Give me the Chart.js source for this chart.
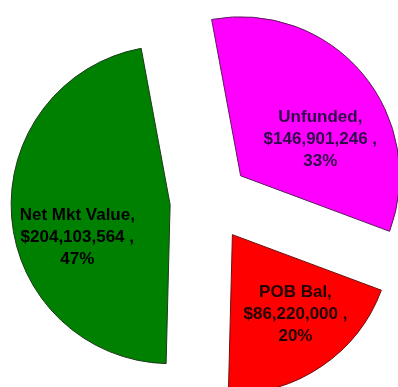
<!DOCTYPE html>
<html>
<head>
<meta charset="utf-8">
<script src="https://cdn.jsdelivr.net/npm/chart.js@4/dist/chart.umd.min.js"></script>
<style>
  html, body { margin: 0; padding: 0; background: #ffffff; }
  #wrap { width: 398px; height: 387px; position: relative; }
</style>
</head>
<body>
<div id="wrap"><canvas id="c" width="398" height="387"></canvas></div>
<script>
// ---- data ----
const categories = ['Unfunded', 'POB Bal', 'Net Mkt Value'];
const values = [146901246, 86220000, 204103564];
const percents = [33, 20, 47];
const sliceColors = ['#FF00FF', '#FF0000', '#008000'];
const borderColors = ['#5a1a5a', '#6a1010', '#1a3a1a'];
const textColors = ['#2e0a4a', '#220000', '#000000'];

// label placement inside each slice: fraction along the arc angle, fraction of radius
const labelPlacement = [
  { along: 0.63, radial: 0.55 },
  { along: 0.44, radial: 0.64 },
  { along: 0.41, radial: 0.62 }
];

function fmtMoney(v) { return '$' + v.toLocaleString('en-US') + ' ,'; }

const explodePlugin = {
  id: 'explode',
  afterDatasetsUpdate(chart, args, opts) {
    const meta = chart.getDatasetMeta(0);
    meta.data.forEach(arc => {
      const mid = (arc.startAngle + arc.endAngle) / 2;
      arc.x += Math.cos(mid) * opts.distance;
      arc.y += Math.sin(mid) * opts.distance;
    });
  }
};

const sliceLabels = {
  id: 'sliceLabels',
  afterDatasetsDraw(chart) {
    const ctx = chart.ctx;
    const meta = chart.getDatasetMeta(0);
    ctx.save();
    ctx.font = 'bold 17px "Liberation Sans", Arial, sans-serif';
    ctx.textAlign = 'center';
    ctx.textBaseline = 'middle';
    meta.data.forEach((arc, i) => {
      const p = labelPlacement[i];
      const a = arc.startAngle + p.along * (arc.endAngle - arc.startAngle);
      const r = arc.outerRadius * p.radial;
      const cx = arc.x + Math.cos(a) * r;
      const cy = arc.y + Math.sin(a) * r;
      const lines = [categories[i] + ',', fmtMoney(values[i]), percents[i] + '%'];
      ctx.fillStyle = textColors[i];
      lines.forEach((t, k) => ctx.fillText(t, cx, cy + (k - 1) * 22));
    });
    ctx.restore();
  }
};

new Chart(document.getElementById('c'), {
  type: 'pie',
  data: {
    labels: categories,
    datasets: [{
      data: values,
      backgroundColor: sliceColors,
      borderColor: borderColors,
      borderWidth: 1
    }]
  },
  options: {
    responsive: false,
    animation: false,
    rotation: -10.5,
    radius: 159,
    layout: { padding: { left: 22, right: 0, top: 16, bottom: 0 } },
    plugins: {
      legend: { display: false },
      tooltip: { enabled: false },
      explode: { distance: 40 }
    }
  },
  plugins: [explodePlugin, sliceLabels]
});
</script>
</body>
</html>
